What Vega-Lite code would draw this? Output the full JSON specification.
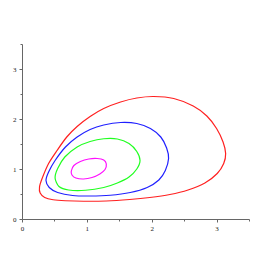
{
  "$schema": "https://vega.github.io/schema/vega-lite/v6.json",
  "autosize": "none",
  "width": 227,
  "height": 175,
  "padding": {"left": 22, "top": 44, "right": 24, "bottom": 54},
  "background": "white",
  "config": {"view": {"stroke": null}},
  "data": {"values": [
    {"c": "r", "o": 0, "x": 0.27, "y": 0.64},
    {"c": "r", "o": 1, "x": 0.31, "y": 0.81},
    {"c": "r", "o": 2, "x": 0.41, "y": 1.11},
    {"c": "r", "o": 3, "x": 0.54, "y": 1.37},
    {"c": "r", "o": 4, "x": 0.69, "y": 1.64},
    {"c": "r", "o": 5, "x": 0.85, "y": 1.85},
    {"c": "r", "o": 6, "x": 1.05, "y": 2.05},
    {"c": "r", "o": 7, "x": 1.26, "y": 2.21},
    {"c": "r", "o": 8, "x": 1.52, "y": 2.34},
    {"c": "r", "o": 9, "x": 1.77, "y": 2.42},
    {"c": "r", "o": 10, "x": 2.03, "y": 2.45},
    {"c": "r", "o": 11, "x": 2.34, "y": 2.41},
    {"c": "r", "o": 12, "x": 2.64, "y": 2.26},
    {"c": "r", "o": 13, "x": 2.85, "y": 2.06},
    {"c": "r", "o": 14, "x": 3.00, "y": 1.81},
    {"c": "r", "o": 15, "x": 3.10, "y": 1.54},
    {"c": "r", "o": 16, "x": 3.14, "y": 1.31},
    {"c": "r", "o": 17, "x": 3.11, "y": 1.11},
    {"c": "r", "o": 18, "x": 3.01, "y": 0.91},
    {"c": "r", "o": 19, "x": 2.82, "y": 0.72},
    {"c": "r", "o": 20, "x": 2.56, "y": 0.58},
    {"c": "r", "o": 21, "x": 2.28, "y": 0.49},
    {"c": "r", "o": 22, "x": 1.97, "y": 0.43},
    {"c": "r", "o": 23, "x": 1.66, "y": 0.39},
    {"c": "r", "o": 24, "x": 1.30, "y": 0.36},
    {"c": "r", "o": 25, "x": 0.95, "y": 0.355},
    {"c": "r", "o": 26, "x": 0.67, "y": 0.365},
    {"c": "r", "o": 27, "x": 0.48, "y": 0.385},
    {"c": "r", "o": 28, "x": 0.35, "y": 0.43},
    {"c": "r", "o": 29, "x": 0.28, "y": 0.52},
    {"c": "b", "o": 0, "x": 0.37, "y": 0.77},
    {"c": "b", "o": 1, "x": 0.41, "y": 0.94},
    {"c": "b", "o": 2, "x": 0.51, "y": 1.17},
    {"c": "b", "o": 3, "x": 0.67, "y": 1.44},
    {"c": "b", "o": 4, "x": 0.85, "y": 1.64},
    {"c": "b", "o": 5, "x": 1.05, "y": 1.79},
    {"c": "b", "o": 6, "x": 1.26, "y": 1.88},
    {"c": "b", "o": 7, "x": 1.52, "y": 1.93},
    {"c": "b", "o": 8, "x": 1.77, "y": 1.91},
    {"c": "b", "o": 9, "x": 1.98, "y": 1.81},
    {"c": "b", "o": 10, "x": 2.14, "y": 1.64},
    {"c": "b", "o": 11, "x": 2.23, "y": 1.42},
    {"c": "b", "o": 12, "x": 2.26, "y": 1.21},
    {"c": "b", "o": 13, "x": 2.21, "y": 0.97},
    {"c": "b", "o": 14, "x": 2.11, "y": 0.78},
    {"c": "b", "o": 15, "x": 1.93, "y": 0.63},
    {"c": "b", "o": 16, "x": 1.67, "y": 0.53},
    {"c": "b", "o": 17, "x": 1.36, "y": 0.475},
    {"c": "b", "o": 18, "x": 1.05, "y": 0.46},
    {"c": "b", "o": 19, "x": 0.78, "y": 0.47},
    {"c": "b", "o": 20, "x": 0.55, "y": 0.53},
    {"c": "b", "o": 21, "x": 0.42, "y": 0.63},
    {"c": "g", "o": 0, "x": 0.51, "y": 0.82},
    {"c": "g", "o": 1, "x": 0.55, "y": 1.01},
    {"c": "g", "o": 2, "x": 0.66, "y": 1.24},
    {"c": "g", "o": 3, "x": 0.85, "y": 1.44},
    {"c": "g", "o": 4, "x": 1.05, "y": 1.55},
    {"c": "g", "o": 5, "x": 1.26, "y": 1.605},
    {"c": "g", "o": 6, "x": 1.47, "y": 1.60},
    {"c": "g", "o": 7, "x": 1.65, "y": 1.51},
    {"c": "g", "o": 8, "x": 1.77, "y": 1.35},
    {"c": "g", "o": 9, "x": 1.82, "y": 1.17},
    {"c": "g", "o": 10, "x": 1.77, "y": 1.00},
    {"c": "g", "o": 11, "x": 1.65, "y": 0.84},
    {"c": "g", "o": 12, "x": 1.47, "y": 0.72},
    {"c": "g", "o": 13, "x": 1.26, "y": 0.63},
    {"c": "g", "o": 14, "x": 0.98, "y": 0.575},
    {"c": "g", "o": 15, "x": 0.72, "y": 0.58},
    {"c": "g", "o": 16, "x": 0.57, "y": 0.65},
    {"c": "m", "o": 0, "x": 0.76, "y": 0.96},
    {"c": "m", "o": 1, "x": 0.80, "y": 1.07},
    {"c": "m", "o": 2, "x": 0.90, "y": 1.15},
    {"c": "m", "o": 3, "x": 1.03, "y": 1.20},
    {"c": "m", "o": 4, "x": 1.16, "y": 1.21},
    {"c": "m", "o": 5, "x": 1.26, "y": 1.18},
    {"c": "m", "o": 6, "x": 1.30, "y": 1.10},
    {"c": "m", "o": 7, "x": 1.28, "y": 0.99},
    {"c": "m", "o": 8, "x": 1.20, "y": 0.90},
    {"c": "m", "o": 9, "x": 1.08, "y": 0.83},
    {"c": "m", "o": 10, "x": 0.95, "y": 0.80},
    {"c": "m", "o": 11, "x": 0.83, "y": 0.82},
    {"c": "m", "o": 12, "x": 0.77, "y": 0.88}
  ]},
  "mark": {"type": "line", "interpolate": "cardinal-closed", "tension": 0.2, "strokeWidth": 1.2, "clip": true},
  "encoding": {
    "x": {
      "field": "x", "type": "quantitative",
      "scale": {"domain": [0, 3.5], "nice": false, "zero": false},
      "axis": {
        "title": null, "grid": false,
        "values": [0, 0.5, 1, 1.5, 2, 2.5, 3, 3.5],
        "labelExpr": "datum.value % 1 === 0 && datum.value <= 3 ? format(datum.value, 'd') : ''",
        "labelFont": "Liberation Serif", "labelFontSize": 7, "labelColor": "#222",
        "labelPadding": 2, "labelFlush": false,
        "domainColor": "#666", "domainWidth": 1,
        "tickColor": "#666", "tickWidth": 1,
        "tickSize": {"condition": {"test": "datum.value % 1 === 0", "value": 3}, "value": 2}
      }
    },
    "y": {
      "field": "y", "type": "quantitative",
      "scale": {"domain": [0, 3.5], "nice": false, "zero": false},
      "axis": {
        "title": null, "grid": false,
        "values": [0, 0.5, 1, 1.5, 2, 2.5, 3, 3.5],
        "labelExpr": "datum.value % 1 === 0 && datum.value <= 3 ? format(datum.value, 'd') : ''",
        "labelFont": "Liberation Serif", "labelFontSize": 7, "labelColor": "#222",
        "labelPadding": 3, "labelFlush": false,
        "domainColor": "#666", "domainWidth": 1,
        "tickColor": "#666", "tickWidth": 1,
        "tickSize": {"condition": {"test": "datum.value % 1 === 0", "value": 3}, "value": 2}
      }
    },
    "color": {
      "field": "c", "type": "nominal",
      "scale": {"domain": ["r", "b", "g", "m"], "range": ["#ff2020", "#2020ff", "#20ff20", "#ff10ff"]},
      "legend": null
    },
    "order": {"field": "o", "type": "quantitative"}
  }
}
